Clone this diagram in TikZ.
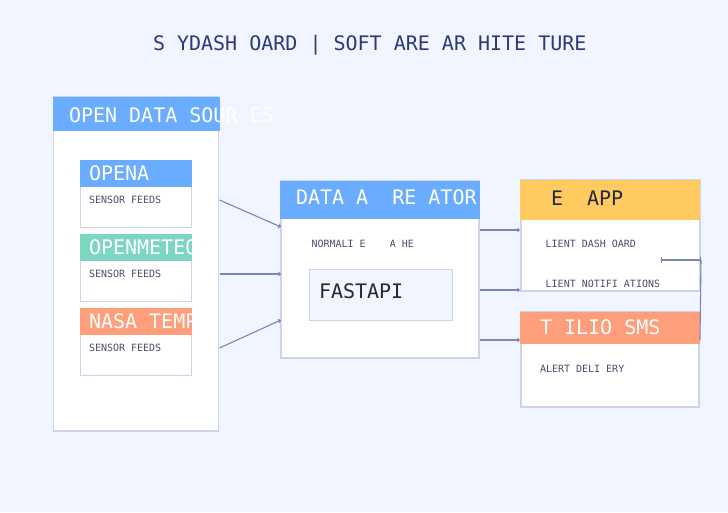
\documentclass[tikz,border=0pt]{standalone}
\usepackage{fontspec}
\setmonofont{DejaVu Sans Mono}
\usetikzlibrary{arrows.meta,calc}
\definecolor{bgc}{HTML}{F0F5FF}
\definecolor{bluec}{HTML}{6AACFF}
\definecolor{tealc}{HTML}{7DD6C3}
\definecolor{salmonc}{HTML}{FF9E7A}
\definecolor{yellowc}{HTML}{FFCB60}
\definecolor{bordc}{HTML}{CBD4E8}
\definecolor{linec}{HTML}{7A86B8}
\definecolor{titlec}{HTML}{2A3B78}
\definecolor{smallc}{HTML}{4A5068}
\definecolor{darkc}{HTML}{24283A}
\tikzset{
 panel/.style={draw=bordc,line width=1.8pt,fill=white,inner sep=0pt,outer sep=0pt,anchor=north west},
 subpanel/.style={draw=bordc,line width=1pt,fill=white,inner sep=0pt,outer sep=0pt,anchor=north west},
 hdr/.style={inner sep=0pt,outer sep=0pt,anchor=north west},
 big/.style={font=\ttfamily\fontsize{20}{20}\selectfont,anchor=base west,inner sep=0pt,outer sep=0pt},
 small/.style={font=\ttfamily\fontsize{10}{10}\selectfont,anchor=base west,inner sep=0pt,outer sep=0pt,text=smallc},
 conn/.style={draw=linec,line width=1.1pt,-{Latex[length=2.5pt,width=6pt]}},
 barconn/.style={draw=linec,line width=1.1pt,{Bar[width=7pt,line width=1.3pt]}-{Bar[width=6pt,line width=1.3pt]}},
}
\begin{document}
\begin{tikzpicture}[x=1pt,y=-1pt]
\fill[bgc] (0,0) rectangle (728,512);
\useasboundingbox (0,0) rectangle (728,512);

% title
\node[big,text=titlec] (title) at (153,50) {S\ YDASH\ OARD\ |\ SOFT\ ARE\ AR\ HITE\ TURE};

% left container
\node[panel,minimum width=165pt,minimum height=334pt] (src) at (53.5,97) {};
\node[hdr,fill=bluec,minimum width=167pt,minimum height=34pt] (srchdr) at (52.5,97) {};
\node[big,text=white] (srctitle) at (69,122) {OPEN\ DATA\ SOUR\ ES};

% sub boxes
\node[subpanel,minimum width=111pt,minimum height=67pt] (aq) at (80.5,160) {};
\node[hdr,fill=bluec,minimum width=112pt,minimum height=27pt] (aqhdr) at (80,160) {};
\begin{scope}
\clip (80,160) rectangle (192,187);
\node[big,text=white] (aqtitle) at (89,180) {OPENA};
\end{scope}
\node[small] (aqtext) at (89,203) {SENSOR\ FEEDS};

\node[subpanel,minimum width=111pt,minimum height=67pt] (om) at (80.5,234) {};
\node[hdr,fill=tealc,minimum width=112pt,minimum height=27pt] (omhdr) at (80,234) {};
\begin{scope}
\clip (80,234) rectangle (192,261);
\node[big,text=white] (omtitle) at (89,254) {OPENMETEO};
\end{scope}
\node[small] (omtext) at (89,277) {SENSOR\ FEEDS};

\node[subpanel,minimum width=111pt,minimum height=67pt] (na) at (80.5,308) {};
\node[hdr,fill=salmonc,minimum width=112pt,minimum height=27pt] (nahdr) at (80,308) {};
\begin{scope}
\clip (80,308) rectangle (192,335);
\node[big,text=white] (natitle) at (89,328) {NASA\ TEMPO};
\end{scope}
\node[small] (natext) at (89,351) {SENSOR\ FEEDS};

% aggregator
\node[panel,minimum width=198pt,minimum height=177pt] (agg) at (281,181) {};
\node[hdr,fill=bluec,minimum width=200pt,minimum height=38pt] (agghdr) at (280,180.5) {};
\node[big,text=white] (aggtitle) at (296,204) {DATA\ A\ \ RE\ ATOR};
\node[small] (aggtext) at (311.5,247) {NORMALI\ E\ \ \ \ A\ HE};
\node[draw=bordc,line width=1pt,fill=bgc,inner sep=0pt,anchor=north west,minimum width=143pt,minimum height=51pt] (fast) at (308.5,268.5) {};
\node[big,text=darkc] (fasttext) at (319,298) {FASTAPI};

% web app
\node[panel,minimum width=179pt,minimum height=111pt] (web) at (521,180) {};
\node[hdr,fill=yellowc,minimum width=180pt,minimum height=40pt] (webhdr) at (520,180) {};
\node[big,text=darkc] (webtitle) at (551,205) {E\ \ APP};
\node[small] (webtext1) at (545.7,247) {LIENT\ DASH\ OARD};
\node[small] (webtext2) at (545.7,287) {LIENT\ NOTIFI\ ATIONS};

% twilio
\node[panel,minimum width=178pt,minimum height=95pt] (tw) at (521,312) {};
\node[hdr,fill=salmonc,minimum width=180pt,minimum height=32pt] (twhdr) at (520,312) {};
\node[big,text=white] (twtitle) at (540,334) {T\ ILIO\ SMS};
\node[small] (twtext) at (540,372) {ALERT\ DELI\ ERY};

% connectors
\draw[conn] ($(src.north east)+(1,103)$) -- ($(agg.north west)+(0,46)$);
\draw[conn] ($(src.north east)+(1,177)$) -- ($(agg.north west)+(0,93)$);
\draw[conn] ($(src.north east)+(1,251)$) -- ($(agg.north west)+(0,139)$);
\draw[conn] ($(agg.north east)+(1,49)$) -- ($(web.north west)+(-1,50)$);
\draw[conn] ($(agg.north east)+(1,109)$) -- ($(web.north west)+(-1,110)$);
\draw[conn] ($(agg.north east)+(1,159)$) -- ($(tw.north west)+(-1,28)$);
\coordinate (corner) at ($(web.north east)+(1,80)$);
\coordinate (fbend) at ($(web.north east)+(-39,80)$);
\draw[draw=linec,line width=1.1pt] ($(tw.north east)+(1,28)$) -- (corner);
\draw[barconn] (corner) -- (fbend);
\end{tikzpicture}
\end{document}
